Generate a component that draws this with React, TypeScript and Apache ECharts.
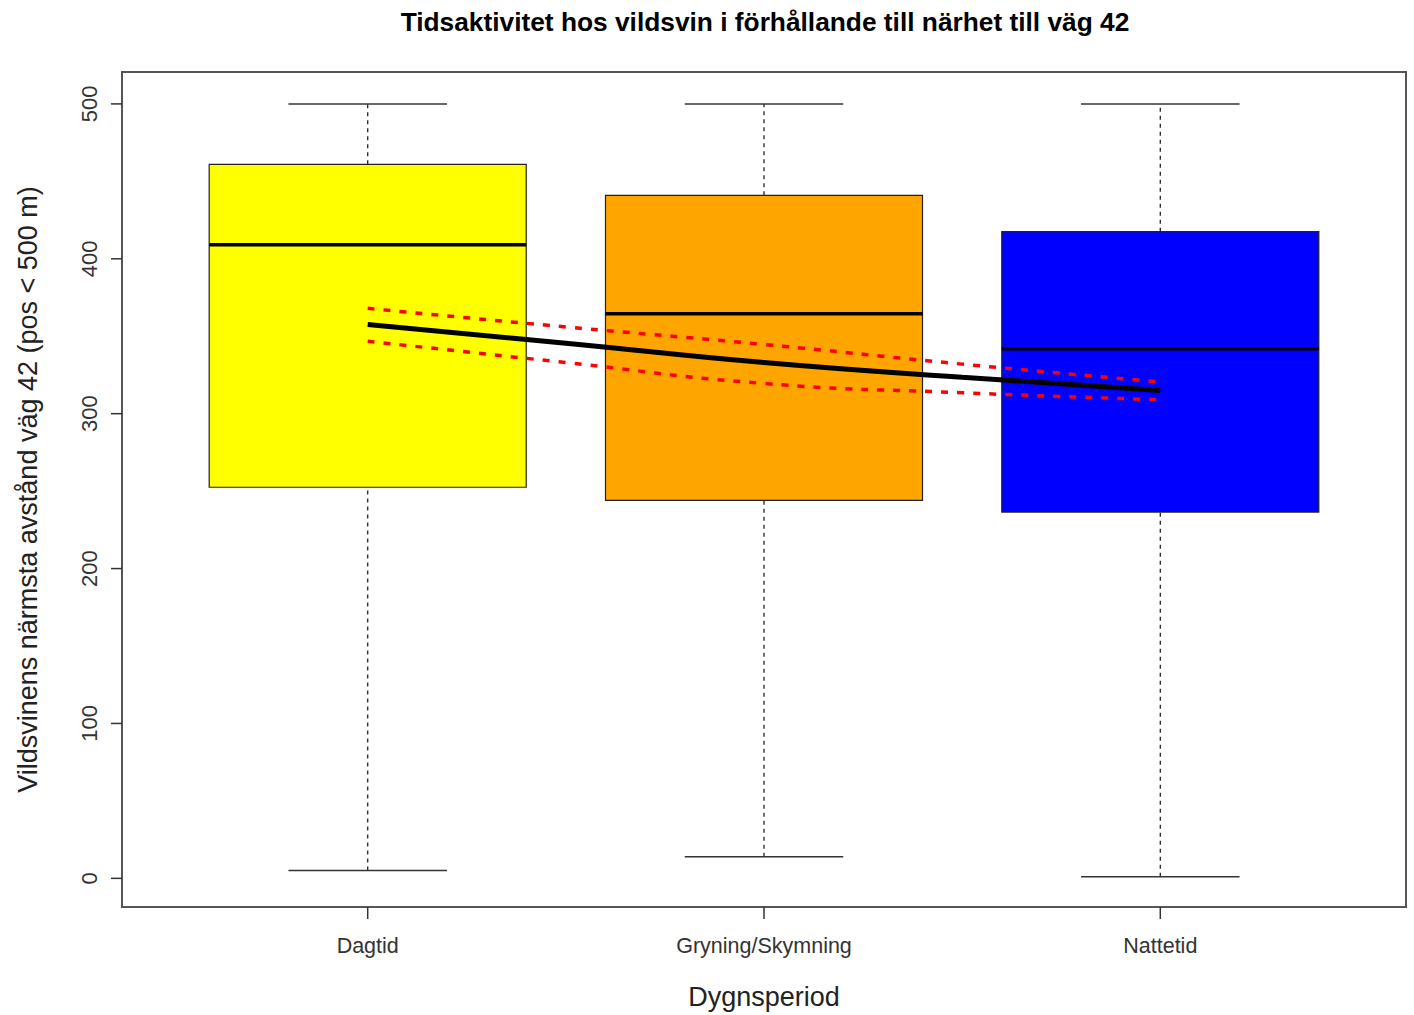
import React, { useEffect, useRef } from "react";
import * as echarts from "echarts";

const categories = ["Dagtid", "Gryning/Skymning", "Nattetid"];
const categoryPos = [1, 2, 3];
const whiskerLow = [5, 14, 1];
const quartile1 = [252.5, 244, 236.5];
const medians = [409, 364.5, 342];
const quartile3 = [461, 441, 417.5];
const whiskerHigh = [500, 500, 500];
const boxColors = ["#FFFF00", "#FFA500", "#0000FF"];

const trendX = [1, 1.5, 2, 2.5, 3];
const trendFit = [357.6, 345.5, 333, 323.5, 315];
const trendUpper = [368, 356, 344.7, 332, 320.5];
const trendLower = [346.8, 333, 319.5, 313.5, 309];

const yTicks = [0, 100, 200, 300, 400, 500];

const X_MIN = 0.38;
const X_MAX = 3.62;
const Y_MIN = -18.5;
const Y_MAX = 520.6;
const BOX_HALF = 0.4;
const CAP_HALF = 0.2;
const FONT = "'Liberation Sans', Arial, sans-serif";

export default function App() {
  const ref = useRef<HTMLDivElement>(null);

  useEffect(() => {
    if (!ref.current) return;
    document.body.style.margin = "0";
    const chart = echarts.init(ref.current, null, { renderer: "svg" });

    const boxData = categoryPos.map((x, i) => [
      x,
      whiskerLow[i],
      quartile1[i],
      medians[i],
      quartile3[i],
      whiskerHigh[i],
      i,
    ]);

    const option = {
      animation: false,
      backgroundColor: "#ffffff",
      textStyle: { fontFamily: FONT },
      title: {
        text: "Tidsaktivitet hos vildsvin i förhållande till närhet till väg 42",
        left: 760,
        top: 4,
        textAlign: "center",
        textStyle: {
          fontFamily: FONT,
          fontWeight: "bold",
          fontSize: 26.3,
          color: "#000",
        },
      },
      grid: {
        left: 122,
        top: 72,
        width: 1284,
        height: 838,
        show: true,
        borderColor: "#555",
        borderWidth: 2,
        backgroundColor: "transparent",
      },
      xAxis: {
        type: "value",
        min: X_MIN,
        max: X_MAX,
        splitNumber: 6,
        axisLine: { show: false },
        axisTick: { show: false },
        splitLine: { show: false },
        axisLabel: {
          margin: 28,
          fontSize: 21.5,
          fontFamily: FONT,
          color: "#333",
          showMinLabel: false,
          showMaxLabel: false,
          formatter: (v: number) => {
            const idx = categoryPos.findIndex((p) => Math.abs(p - v) < 1e-6);
            return idx >= 0 ? categories[idx] : "";
          },
        },
        name: "Dygnsperiod",
        nameLocation: "middle",
        nameGap: 76,
        nameTextStyle: { fontSize: 27, fontFamily: FONT, color: "#222" },
      },
      yAxis: {
        type: "value",
        min: Y_MIN,
        max: Y_MAX,
        splitNumber: 5,
        axisLine: { show: false },
        axisTick: { show: false },
        splitLine: { show: false },
        axisLabel: {
          rotate: 90,
          margin: 22,
          fontSize: 22,
          fontFamily: FONT,
          color: "#333",
          showMinLabel: false,
          showMaxLabel: false,
          formatter: (v: number) => (yTicks.includes(v) ? String(v) : ""),
        },
        name: "Vildsvinens närmsta avstånd väg 42 (pos < 500 m)",
        nameLocation: "middle",
        nameRotate: 90,
        nameGap: 81,
        nameTextStyle: { fontSize: 27, fontFamily: FONT, color: "#222" },
      },
      series: [
        {
          type: "custom",
          name: "box",
          z: 2,
          clip: false,
          data: boxData,
          renderItem: (params: any, api: any) => {
            const x = api.value(0);
            const vMin = api.value(1);
            const vQ1 = api.value(2);
            const vMed = api.value(3);
            const vQ3 = api.value(4);
            const vMax = api.value(5);
            const ci = api.value(6);
            const cx = api.coord([x, 0])[0];
            const left = api.coord([x - BOX_HALF, 0])[0];
            const right = api.coord([x + BOX_HALF, 0])[0];
            const capL = api.coord([x - CAP_HALF, 0])[0];
            const capR = api.coord([x + CAP_HALF, 0])[0];
            const yMin = api.coord([x, vMin])[1];
            const yQ1 = api.coord([x, vQ1])[1];
            const yMed = api.coord([x, vMed])[1];
            const yQ3 = api.coord([x, vQ3])[1];
            const yMax = api.coord([x, vMax])[1];
            const dashed = { stroke: "#222", lineWidth: 1.3, lineDash: [4, 4] };
            const solid = { stroke: "#333", lineWidth: 1.5 };
            return {
              type: "group",
              children: [
                { type: "line", shape: { x1: cx, y1: yQ3, x2: cx, y2: yMax }, style: dashed },
                { type: "line", shape: { x1: cx, y1: yMin, x2: cx, y2: yQ1 }, style: dashed },
                { type: "line", shape: { x1: capL, y1: yMax, x2: capR, y2: yMax }, style: solid },
                { type: "line", shape: { x1: capL, y1: yMin, x2: capR, y2: yMin }, style: solid },
                {
                  type: "rect",
                  shape: { x: left, y: yQ3, width: right - left, height: yQ1 - yQ3 },
                  style: { fill: boxColors[ci], stroke: "#222", lineWidth: 1.2 },
                },
                {
                  type: "line",
                  shape: { x1: left, y1: yMed, x2: right, y2: yMed },
                  style: { stroke: "#000", lineWidth: 3.5 },
                },
              ],
            };
          },
        },
        {
          type: "custom",
          name: "yticks",
          clip: false,
          silent: true,
          data: yTicks.map((v) => [1, v]),
          renderItem: (params: any, api: any) => {
            const y = api.coord([1, api.value(1)])[1];
            const x0 = params.coordSys.x;
            return {
              type: "line",
              shape: { x1: x0 - 11, y1: y, x2: x0, y2: y },
              style: { stroke: "#333", lineWidth: 1.5 },
            };
          },
        },
        {
          type: "custom",
          name: "xticks",
          clip: false,
          silent: true,
          data: categoryPos.map((p) => [p, 0]),
          renderItem: (params: any, api: any) => {
            const x = api.coord([api.value(0), 0])[0];
            const yb = params.coordSys.y + params.coordSys.height;
            return {
              type: "line",
              shape: { x1: x, y1: yb, x2: x, y2: yb + 12 },
              style: { stroke: "#333", lineWidth: 1.5 },
            };
          },
        },
        {
          type: "line",
          name: "upper",
          z: 4,
          smooth: 0.5,
          symbol: "none",
          data: trendX.map((x, i) => [x, trendUpper[i]]),
          lineStyle: { color: "#FF0000", width: 3.5, type: [7, 9] },
        },
        {
          type: "line",
          name: "lower",
          z: 4,
          smooth: 0.5,
          symbol: "none",
          data: trendX.map((x, i) => [x, trendLower[i]]),
          lineStyle: { color: "#FF0000", width: 3.5, type: [7, 9] },
        },
        {
          type: "line",
          name: "fit",
          z: 5,
          smooth: 0.5,
          symbol: "none",
          data: trendX.map((x, i) => [x, trendFit[i]]),
          lineStyle: { color: "#000000", width: 5 },
        },
      ],
    };

    chart.setOption(option as any);
    return () => {
      chart.dispose();
    };
  }, []);

  return (
    <div
      ref={ref}
      style={{ position: "fixed", left: 0, top: 0, width: 1414, height: 1015 }}
    />
  );
}
